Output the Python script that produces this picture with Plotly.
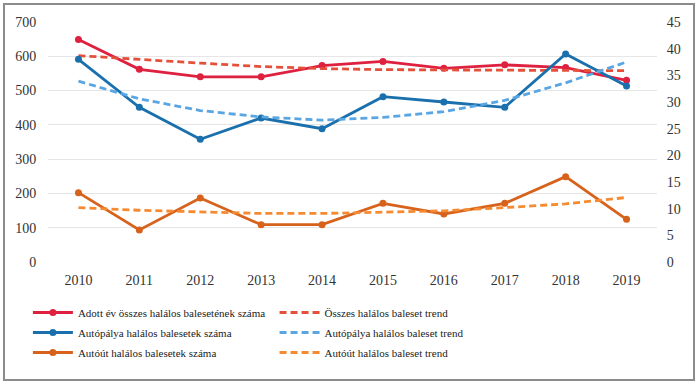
import plotly.graph_objects as go

years = ["2010", "2011", "2012", "2013", "2014", "2015", "2016", "2017", "2018", "2019"]
total = [649, 562, 540, 540, 573, 585, 565, 575, 567, 530]
total_trend = [602, 590, 580, 570, 564, 561, 560, 559, 559, 558]
highway = [38, 29, 23, 27, 25, 31, 30, 29, 39, 33]
highway_trend = [33.9, 30.6, 28.4, 27.2, 26.6, 27.1, 28.2, 30.3, 33.6, 37.5]
expressway = [13, 6, 12, 7, 7, 11, 9, 11, 16, 8]
expressway_trend = [10.2, 9.7, 9.4, 9.1, 9.1, 9.3, 9.6, 10.2, 10.9, 12.1]

left_ticks = [0, 100, 200, 300, 400, 500, 600, 700]
right_ticks = [0, 5, 10, 15, 20, 25, 30, 35, 40, 45]

RED = "#DF2140"
BLUE = "#1A70AC"
ORANGE = "#D6621C"
RED_T = "#E4503A"
BLUE_T = "#5AA6E2"
ORANGE_T = "#F58A30"

FONT = "Liberation Serif, Times New Roman, serif"
DASH = "7px,4px"
CLEAR = "rgba(0,0,0,0)"

fig = go.Figure()

fig.add_trace(go.Scatter(x=years, y=total, name="Adott év összes halálos balesetének száma",
                         mode="lines+markers", line=dict(color=RED, width=2.8),
                         marker=dict(size=7, color=RED), legend="legend", legendgroup="a"))
fig.add_trace(go.Scatter(x=years, y=highway, name="Autópálya halálos balesetek száma",
                         mode="lines+markers", line=dict(color=BLUE, width=2.8),
                         marker=dict(size=7, color=BLUE), yaxis="y2", legend="legend",
                         legendgroup="b"))
fig.add_trace(go.Scatter(x=years, y=expressway, name="Autóút halálos balesetek száma",
                         mode="lines+markers", line=dict(color=ORANGE, width=2.8),
                         marker=dict(size=7, color=ORANGE), yaxis="y2", legend="legend",
                         legendgroup="c"))
fig.add_trace(go.Scatter(x=years, y=total_trend, name="Összes halálos baleset trend",
                         mode="lines", line=dict(color=RED_T, width=2.8, dash=DASH),
                         legend="legend2", legendgroup="d"))
fig.add_trace(go.Scatter(x=years, y=highway_trend, name="Autópálya halálos baleset trend",
                         mode="lines", line=dict(color=BLUE_T, width=2.8, dash=DASH),
                         yaxis="y2", legend="legend2", legendgroup="e"))
fig.add_trace(go.Scatter(x=years, y=expressway_trend, name="Autóút halálos baleset trend",
                         mode="lines", line=dict(color=ORANGE_T, width=2.8, dash=DASH),
                         yaxis="y2", legend="legend2", legendgroup="f"))

legend_common = dict(orientation="v", bgcolor=CLEAR, borderwidth=0,
                     font=dict(family=FONT, size=11, color="#222"),
                     itemwidth=40, tracegroupgap=1, xanchor="left", yanchor="top",
                     traceorder="grouped")

fig.update_layout(
    width=700, height=385,
    margin=dict(l=48, r=43, t=22, b=123, autoexpand=False),
    paper_bgcolor="white", plot_bgcolor="white",
    font=dict(family=FONT, size=14, color="#333"),
    xaxis=dict(type="category", range=[-0.5, 9.5], showgrid=False, showline=False,
               ticks="outside", ticklen=5, tickcolor=CLEAR,
               tickfont=dict(family=FONT, size=14, color="#333")),
    yaxis=dict(range=[0, 700], tickvals=left_ticks, showgrid=True, gridcolor="#E6E6E6",
               gridwidth=1, zeroline=False, showline=False,
               ticks="outside", ticklen=8, tickcolor=CLEAR,
               tickfont=dict(family=FONT, size=14, color="#333")),
    yaxis2=dict(range=[0, 45], tickvals=right_ticks, overlaying="y", side="right",
                showgrid=False, zeroline=False, showline=False,
                ticks="outside", ticklen=6, tickcolor=CLEAR,
                tickfont=dict(family=FONT, size=14, color="#333")),
    legend=dict(x=-0.033, y=-0.15, **legend_common),
    legend2=dict(x=0.372, y=-0.15, **legend_common),
    shapes=[dict(type="rect", xref="paper", yref="paper",
                 x0=(4 - 48) / 609, x1=(694 - 48) / 609,
                 y0=(262 - 380) / 240, y1=(262 - 4) / 240,
                 line=dict(color="#8C8C8C", width=2), fillcolor=CLEAR,
                 layer="below")],
)

fig.write_html("out.html", post_script="document.body.style.margin='0';",
               config={"displayModeBar": False})
